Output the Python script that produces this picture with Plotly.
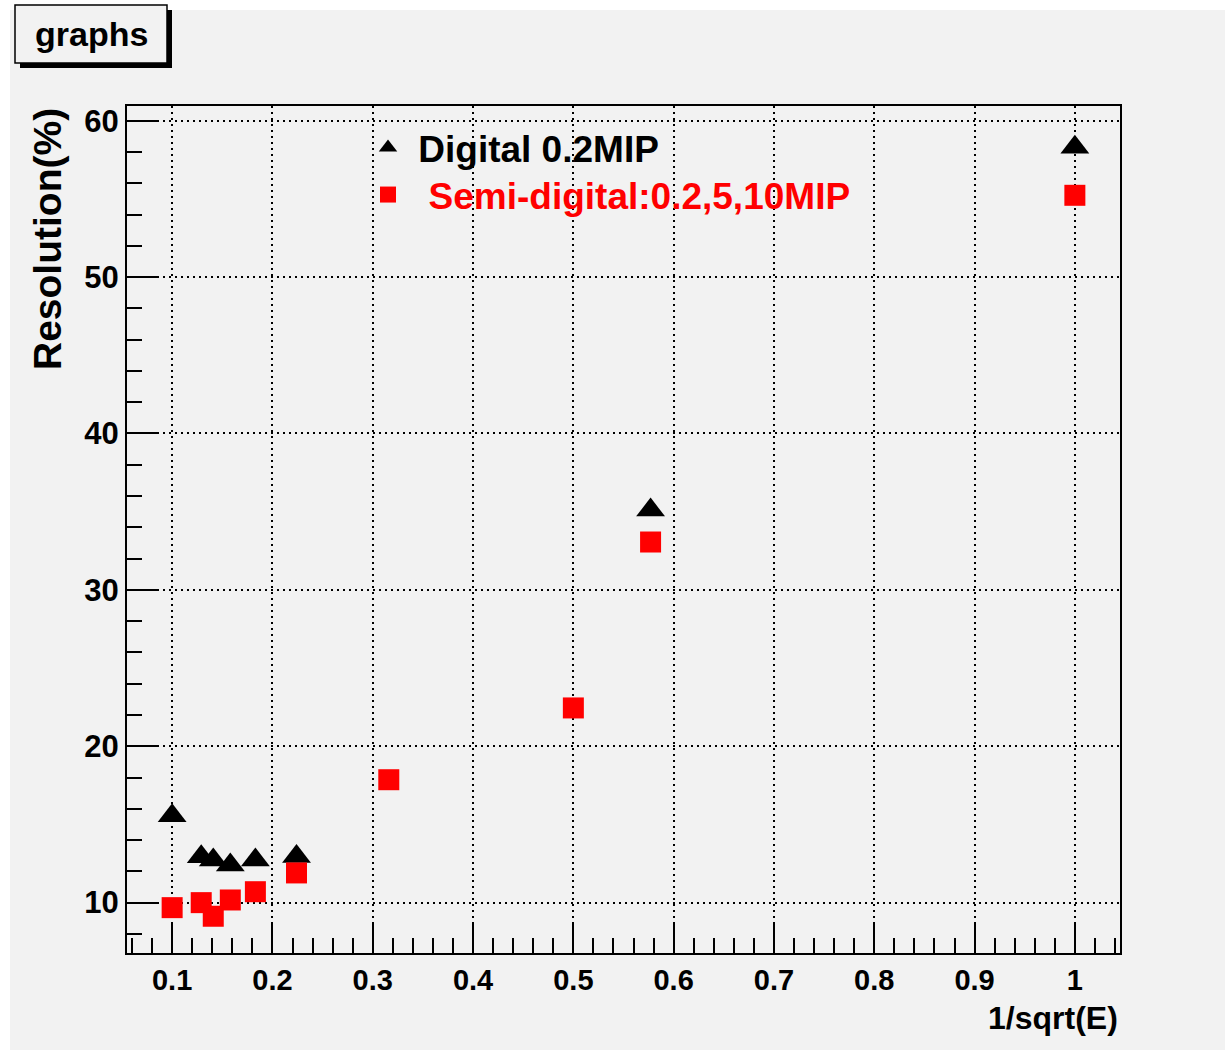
import plotly.graph_objects as go

# ---- data ----
x_digital = [0.1, 0.129, 0.141, 0.158, 0.183, 0.224, 0.577, 1.0]
y_digital = [15.56, 12.94, 12.73, 12.41, 12.73, 12.95, 35.1, 58.3]

x_semi = [0.1, 0.129, 0.141, 0.158, 0.183, 0.224, 0.316, 0.5, 0.577, 1.0]
y_semi = [9.68, 10.0, 9.13, 10.17, 10.7, 11.9, 17.86, 22.45, 33.06, 55.23]

name_digital = "Digital 0.2MIP"
name_semi = "Semi-digital:0.2,5,10MIP"
x_title = "1/sqrt(E)"
y_title = "Resolution(%)"
canvas_title = "graphs"

# ---- geometry helpers (pixel -> paper) ----
W, H = 1225, 1050
L, R, T, B = 127, 1120, 106, 953


def px(x):
    return (x - L) / (R - L)


def py(y):
    return (B - y) / (B - T)


FONT = "Liberation Sans, Arial, Helvetica, sans-serif"
BG = "#f2f2f2"

fig = go.Figure()
fig.add_trace(go.Scatter(
    x=x_digital, y=y_digital, mode="markers", name="\u00a0" + name_digital,
    marker=dict(symbol="triangle-up", size=25, color="black", line=dict(width=0)),
    legend="legend",
))
fig.add_trace(go.Scatter(
    x=x_semi, y=y_semi, mode="markers", name="\u00a0\u00a0" + name_semi,
    marker=dict(symbol="square", size=21, color="#ff0000", line=dict(width=0)),
    legend="legend2",
))

axis_common = dict(
    showline=True, linecolor="black", linewidth=2, mirror=True,
    ticks="inside", ticklen=30, tickwidth=2, tickcolor="black",
    showgrid=True, gridcolor="black", gridwidth=2, griddash="2px,4px",
    zeroline=False,
)

fig.update_xaxes(
    range=[0.055, 1.045], tickmode="linear", tick0=0, dtick=0.1,
    minor=dict(ticks="inside", ticklen=15, tickwidth=2, tickcolor="black",
               dtick=0.02, tick0=0, showgrid=False),
    tickfont=dict(family=FONT, size=29, color="black", weight="bold"),
    **axis_common,
)
fig.update_yaxes(
    range=[6.78, 60.94], tickmode="linear", tick0=0, dtick=10,
    minor=dict(ticks="inside", ticklen=15, tickwidth=2, tickcolor="black",
               dtick=2, tick0=0, showgrid=False),
    tickfont=dict(family=FONT, size=31, color="black", weight="bold"),
    **axis_common,
)

legend_common = dict(
    bgcolor="rgba(0,0,0,0)", borderwidth=0, xanchor="left", yanchor="middle",
    itemclick=False, itemdoubleclick=False,
)

fig.update_layout(
    width=W, height=H,
    margin=dict(l=L, r=W - R, t=T, b=H - B, autoexpand=False),
    paper_bgcolor=BG, plot_bgcolor=BG,
    showlegend=True,
    legend=dict(x=px(368), y=py(148),
                font=dict(family=FONT, size=37, color="black", weight="bold"),
                **legend_common),
    legend2=dict(x=px(368), y=py(195),
                 font=dict(family=FONT, size=37, color="#ff0000", weight="bold"),
                 **legend_common),
    shapes=[
        # white strips outside the canvas
        dict(type="rect", xref="paper", yref="paper", x0=px(0), x1=px(W), y0=py(10), y1=py(0),
             fillcolor="white", line=dict(width=0), layer="above"),
        dict(type="rect", xref="paper", yref="paper", x0=px(0), x1=px(10), y0=py(H), y1=py(0),
             fillcolor="white", line=dict(width=0), layer="above"),
        # title box shadow and box
        dict(type="rect", xref="paper", yref="paper", x0=px(20), x1=px(172), y0=py(68), y1=py(10),
             fillcolor="black", line=dict(width=0), layer="above"),
        dict(type="rect", xref="paper", yref="paper", x0=px(15), x1=px(167), y0=py(63), y1=py(5),
             fillcolor=BG, line=dict(color="black", width=1.5), layer="above"),
    ],
    annotations=[
        dict(text=canvas_title, xref="paper", yref="paper", x=px(91), y=py(34),
             xanchor="center", yanchor="middle", showarrow=False,
             font=dict(family=FONT, size=34, color="black", weight="bold")),
        dict(text=x_title, xref="paper", yref="paper", x=px(1120), y=py(1018),
             xanchor="right", yanchor="middle", showarrow=False,
             font=dict(family=FONT, size=32, color="black", weight="bold")),
        dict(text=y_title, xref="paper", yref="paper", x=px(47), y=py(106),
             xanchor="center", yanchor="top", textangle=-90, showarrow=False,
             font=dict(family=FONT, size=39, color="black", weight="bold")),
    ],
)

fig.write_html("out.html")
